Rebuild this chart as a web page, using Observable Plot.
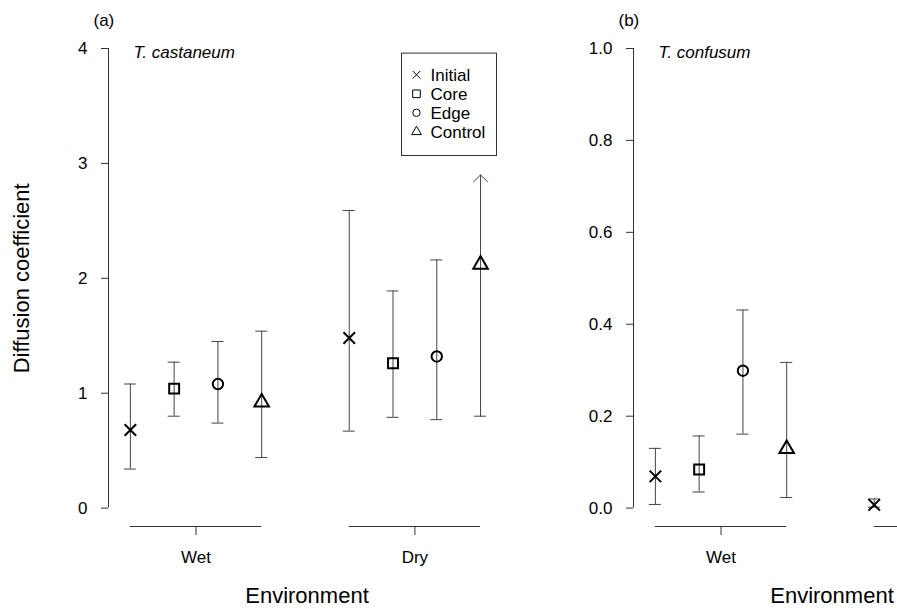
<!DOCTYPE html>
<html>
<head>
<meta charset="utf-8">
<script src="https://cdn.jsdelivr.net/npm/d3@7"></script>
<script src="https://cdn.jsdelivr.net/npm/@observablehq/plot@0.6"></script>
<style>
  body { margin: 0; background: #fff; }
  #wrap { position: relative; width: 897px; height: 609px; overflow: hidden; background: #fff; }
  #wrap > svg { position: absolute; top: 0; }
</style>
</head>
<body>
<div id="wrap"></div>
<script>
// ---------- data ----------
const treatments = ["Initial", "Core", "Edge", "Control"];
const environments = ["Wet", "Dry"];

// (a) T. castaneum
const castWetMean = [0.68, 1.04, 1.08, 0.92];
const castWetLow  = [0.34, 0.80, 0.74, 0.44];
const castWetHigh = [1.08, 1.27, 1.45, 1.54];
const castDryMean = [1.48, 1.26, 1.32, 2.12];
const castDryLow  = [0.67, 0.79, 0.77, 0.80];
const castDryHigh = [2.59, 1.89, 2.16, 2.90];
const castDryOpen = [false, false, false, true]; // upper limit drawn as arrow

// (b) T. confusum
const confWetMean = [0.069, 0.084, 0.299, 0.129];
const confWetLow  = [0.008, 0.035, 0.161, 0.023];
const confWetHigh = [0.130, 0.157, 0.431, 0.317];
const confDryMean = [0.007];
const confDryLow  = [0.002];
const confDryHigh = [0.020];

const yTicksA = [0, 1, 2, 3, 4];
const yTicksB = [0, 0.2, 0.4, 0.6, 0.8, 1.0];

// ---------- helpers ----------
function rowsFor(env, mean, lo, hi, open) {
  const e = environments.indexOf(env);
  return mean.map((m, k) => ({
    env, treatment: treatments[k], x: e * 5 + k + 1,
    mean: m, lo: lo[k], hi: hi[k], open: open ? open[k] : false
  }));
}
const groups = environments.map((env, e) => ({env, start: e * 5 + 1, end: e * 5 + 4, center: e * 5 + 2.5}));

const symbolOf = {Initial: "times", Core: "square", Edge: "circle", Control: "triangle"};
const rOf      = {Initial: 5.3, Core: 5.6, Edge: 5.2, Control: 5.4};
const rLegend  = {Initial: 3.6, Core: 4.3, Edge: 3.7, Control: 3.6};

const axisColor = "#333";
const barColor = "#444";
const xDomain = [0.5, 9.57];

function panel({rows, yTicks, yFormat, tag, species, legend, ylabel, labelledGroups}) {
  const span = yTicks[yTicks.length - 1] - yTicks[0];
  const yDomain = [yTicks[0] - 0.04 * span, yTicks[yTicks.length - 1] + 0.04 * span];
  const closed = rows.filter(d => !d.open);
  const open = rows.filter(d => d.open);
  const shown = groups.filter(g => labelledGroups.includes(g.env));
  const marks = [
    // y axis line
    Plot.ruleX([xDomain[0]], {x: d => d, y1: () => yTicks[0], y2: () => yTicks[yTicks.length - 1], stroke: axisColor}),
    Plot.axisY({ticks: yTicks, tickFormat: yFormat, tickSize: 7, tickPadding: 14, label: null, stroke: axisColor, fill: "black"}),
    // x axis segments per group
    Plot.ruleY(groups, {x1: "start", x2: "end", y: () => yDomain[0], stroke: axisColor}),
    Plot.axisX({ticks: shown.map(g => g.center), tickFormat: d => groups.find(g => g.center === d).env,
      tickSize: 9, tickPadding: 15, label: null, stroke: axisColor, fill: "black"}),
    // error bars
    Plot.ruleX(closed, {x: "x", y1: "lo", y2: "hi", stroke: barColor, strokeWidth: 1}),
    Plot.ruleY(closed, {x1: "x", x2: "x", y: "hi", insetLeft: -6, insetRight: -6, stroke: barColor}),
    Plot.ruleY(rows, {x1: "x", x2: "x", y: "lo", insetLeft: -6, insetRight: -6, stroke: barColor}),
    Plot.arrow(open, {x: "x", y1: "lo", y2: "hi", headAngle: 90, headLength: 15, stroke: barColor, strokeWidth: 1}),
    // texts
    Plot.text([tag], {frameAnchor: "top-left", dx: -15, dy: -10, textAnchor: "start", lineAnchor: "middle", text: d => d}),
    Plot.text([species], {frameAnchor: "top-left", dx: 25, dy: 22.8, textAnchor: "start", lineAnchor: "middle", fontStyle: "italic", text: d => d}),
    Plot.text(["Environment"], {frameAnchor: "bottom", dy: 69, fontSize: 22, textAnchor: "middle", lineAnchor: "middle", text: d => d})
  ];
  for (const t of treatments) {
    marks.push(Plot.dot(rows.filter(d => d.treatment === t), {
      x: "x", y: "mean", symbol: symbolOf[t], r: rOf[t], stroke: "black", fill: "none", strokeWidth: 2
    }));
  }
  if (ylabel) {
    marks.push(Plot.text([ylabel], {frameAnchor: "left", dx: -87, rotate: -90, fontSize: 22,
      textAnchor: "middle", lineAnchor: "middle", text: d => d}));
  }
  if (legend) {
    marks.push(Plot.frame({stroke: axisColor, insetLeft: 293, insetRight: 9, insetTop: 23, insetBottom: 371}));
    treatments.forEach((t, i) => {
      marks.push(Plot.dot([t], {frameAnchor: "top-left", dx: 308, dy: 44.7 + 19 * i, symbol: symbolOf[t],
        r: rLegend[t], stroke: "black", fill: "none", strokeWidth: 1}));
      marks.push(Plot.text([t], {frameAnchor: "top-left", dx: 322, dy: 45.2 + 19 * i, textAnchor: "start",
        lineAnchor: "middle", text: d => d}));
    });
  }
  return Plot.plot({
    width: 525, height: 609,
    marginLeft: 108, marginRight: 20, marginTop: 29.6, marginBottom: 83,
    x: {domain: xDomain},
    y: {domain: yDomain},
    style: {fontFamily: "'Liberation Sans', Arial, Helvetica, sans-serif", fontSize: "17px", background: "transparent", overflow: "visible", color: "black"},
    marks
  });
}

const wrap = document.getElementById("wrap");
const pa = panel({
  rows: [...rowsFor("Wet", castWetMean, castWetLow, castWetHigh), ...rowsFor("Dry", castDryMean, castDryLow, castDryHigh, castDryOpen)],
  yTicks: yTicksA, yFormat: d3.format("d"), tag: "(a)", species: "T. castaneum", legend: true,
  ylabel: "Diffusion coefficient", labelledGroups: ["Wet", "Dry"]
});
pa.style.left = "0px";
const pb = panel({
  rows: [...rowsFor("Wet", confWetMean, confWetLow, confWetHigh), ...rowsFor("Dry", confDryMean, confDryLow, confDryHigh)],
  yTicks: yTicksB, yFormat: d3.format(".1f"), tag: "(b)", species: "T. confusum", legend: false,
  ylabel: null, labelledGroups: ["Wet"]
});
pb.style.left = "525px";
wrap.appendChild(pa);
wrap.appendChild(pb);
</script>
</body>
</html>
